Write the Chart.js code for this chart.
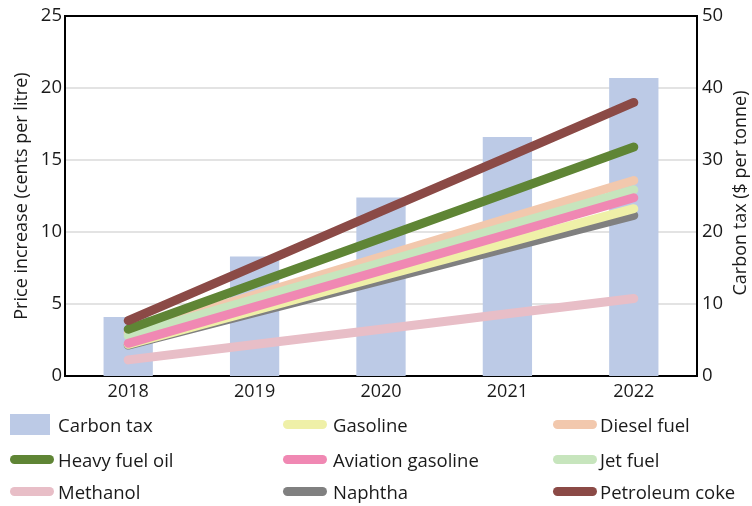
<!DOCTYPE html>
<html>
<head>
<meta charset="utf-8">
<script src="https://cdn.jsdelivr.net/npm/chart.js@4.4.1/dist/chart.umd.min.js"></script>
<style>
  html, body { margin: 0; padding: 0; background: #fff; }
  #wrap { position: relative; width: 752px; height: 506px; font-family: "Open Sans", sans-serif; }
  #c { position: absolute; left: 0; top: 0; }
  .lg { position: absolute; display: flex; align-items: center; font-size: 18.5px; color: #1a1a1a; white-space: nowrap; }
  .sw { display: inline-block; margin-right: 8px; }
  .sw.line { width: 44px; height: 9px; border-radius: 5px; }
  .sw.box { width: 40px; height: 21px; }
</style>
</head>
<body>
<div id="wrap">
  <canvas id="c" width="752" height="506"></canvas>
  <div id="legend"></div>
</div>
<script>
const years = ["2018", "2019", "2020", "2021", "2022"];
const carbonTax = [8.2, 16.6, 24.8, 33.2, 41.4];
const gasoline = [2.2, 4.56, 6.91, 9.27, 11.62];
const dieselFuel = [2.98, 5.63, 8.28, 10.93, 13.58];
const heavyFuelOil = [3.25, 6.41, 9.57, 12.73, 15.9];
const aviationGasoline = [2.27, 4.8, 7.32, 9.85, 12.38];
const jetFuel = [2.8, 5.34, 7.87, 10.41, 12.94];
const methanol = [1.12, 2.19, 3.25, 4.32, 5.38];
const naphtha = [2.15, 4.4, 6.65, 8.9, 11.16];
const petroleumCoke = [3.85, 7.64, 11.43, 15.21, 19.0];
const leftTicks = [0, 5, 10, 15, 20, 25];
const rightTicks = [0, 10, 20, 30, 40, 50];

const FONT = '"Open Sans", sans-serif';

const series = [
  { label: "Gasoline", data: gasoline, color: "#eff0a8", order: 6, col: 1, row: 0 },
  { label: "Diesel fuel", data: dieselFuel, color: "#f2c8ad", order: 5, col: 2, row: 0 },
  { label: "Heavy fuel oil", data: heavyFuelOil, color: "#5f8535", order: 2, col: 0, row: 1 },
  { label: "Aviation gasoline", data: aviationGasoline, color: "#f088b3", order: 3, col: 1, row: 1 },
  { label: "Jet fuel", data: jetFuel, color: "#c7e5bd", order: 4, col: 2, row: 1 },
  { label: "Methanol", data: methanol, color: "#e8bec7", order: 8, col: 0, row: 2 },
  { label: "Naphtha", data: naphtha, color: "#808080", order: 7, col: 1, row: 2 },
  { label: "Petroleum coke", data: petroleumCoke, color: "#8b4a46", order: 1, col: 2, row: 2 }
];

const datasets = [{
  type: "bar",
  label: "Carbon tax",
  data: carbonTax,
  yAxisID: "y2",
  backgroundColor: "#bccae6",
  borderWidth: 0,
  barPercentage: 0.39,
  categoryPercentage: 1,
  order: 20
}];
series.forEach(s => datasets.push({
  type: "line",
  label: s.label,
  data: s.data,
  yAxisID: "y",
  borderColor: s.color,
  backgroundColor: s.color,
  borderWidth: 9,
  borderCapStyle: "round",
  borderJoinStyle: "round",
  pointRadius: 0,
  tension: 0,
  fill: false,
  order: s.order
}));

const rightTitle = {
  id: "rightTitle",
  afterDraw(chart) {
    const ctx = chart.ctx;
    const a = chart.chartArea;
    ctx.save();
    ctx.translate(741, 193);
    ctx.rotate(-Math.PI / 2);
    ctx.font = "18px " + FONT;
    ctx.fillStyle = "#1a1a1a";
    ctx.textAlign = "center";
    ctx.textBaseline = "middle";
    ctx.fillText("Carbon tax ($ per tonne)", 0, 0);
    ctx.restore();
  }
};

new Chart(document.getElementById("c"), {
  data: { labels: years, datasets },
  options: {
    responsive: false,
    animation: false,
    layout: { padding: { top: 15, bottom: 0, left: 0, right: 0 } },
    plugins: { legend: { display: false }, tooltip: { enabled: false } },
    scales: {
      x: {
        offset: true,
        grid: { display: false, drawTicks: false },
        border: { display: true, color: "#000", width: 2 },
        ticks: { color: "#1a1a1a", font: { family: FONT, size: 18 }, padding: 5 },
        afterFit(s) { s.height = 130; }
      },
      y: {
        position: "left",
        min: 0, max: 25,
        afterBuildTicks(s) { s.ticks = leftTicks.map(v => ({ value: v })); },
        grid: {
          drawTicks: false,
          color: c => (c.tick && (c.tick.value === 25 || c.tick.value === 0)) ? "#000" : "#e3e3e3",
          lineWidth: 2
        },
        border: { display: true, color: "#000", width: 2 },
        ticks: { color: "#1a1a1a", font: { family: FONT, size: 18.5 }, padding: 3 },
        title: { display: true, text: "Price increase (cents per litre)", color: "#1a1a1a", font: { family: FONT, size: 18 }, padding: { top: 11, bottom: 0 } },
        afterFit(s) { s.width = 65; }
      },
      y2: {
        position: "right",
        min: 0, max: 50,
        afterBuildTicks(s) { s.ticks = rightTicks.map(v => ({ value: v })); },
        grid: { display: false, drawTicks: false },
        border: { display: true, color: "#000", width: 2 },
        ticks: { color: "#1a1a1a", font: { family: FONT, size: 18.5 }, padding: 5 },
        afterFit(s) { s.width = 55; }
      }
    }
  },
  plugins: [rightTitle]
});

// HTML legend
const colX = [[10, 58], [283, 333], [553, 600]];
const rowY = [424, 459, 491];
const lg = document.getElementById("legend");
function addItem(label, color, col, row, isBox) {
  const d = document.createElement("div");
  d.className = "lg";
  d.style.left = colX[col][0] + "px";
  d.style.top = (rowY[row] - 14) + "px";
  d.style.height = "28px";
  const sw = document.createElement("span");
  sw.className = "sw " + (isBox ? "box" : "line");
  sw.style.background = color;
  sw.style.marginRight = (colX[col][1] - colX[col][0] - (isBox ? 40 : 44)) + "px";
  const t = document.createElement("span");
  t.textContent = label;
  d.appendChild(sw); d.appendChild(t);
  lg.appendChild(d);
}
addItem("Carbon tax", "#bccae6", 0, 0, true);
series.forEach(s => addItem(s.label, s.color, s.col, s.row, false));
</script>
</body>
</html>
